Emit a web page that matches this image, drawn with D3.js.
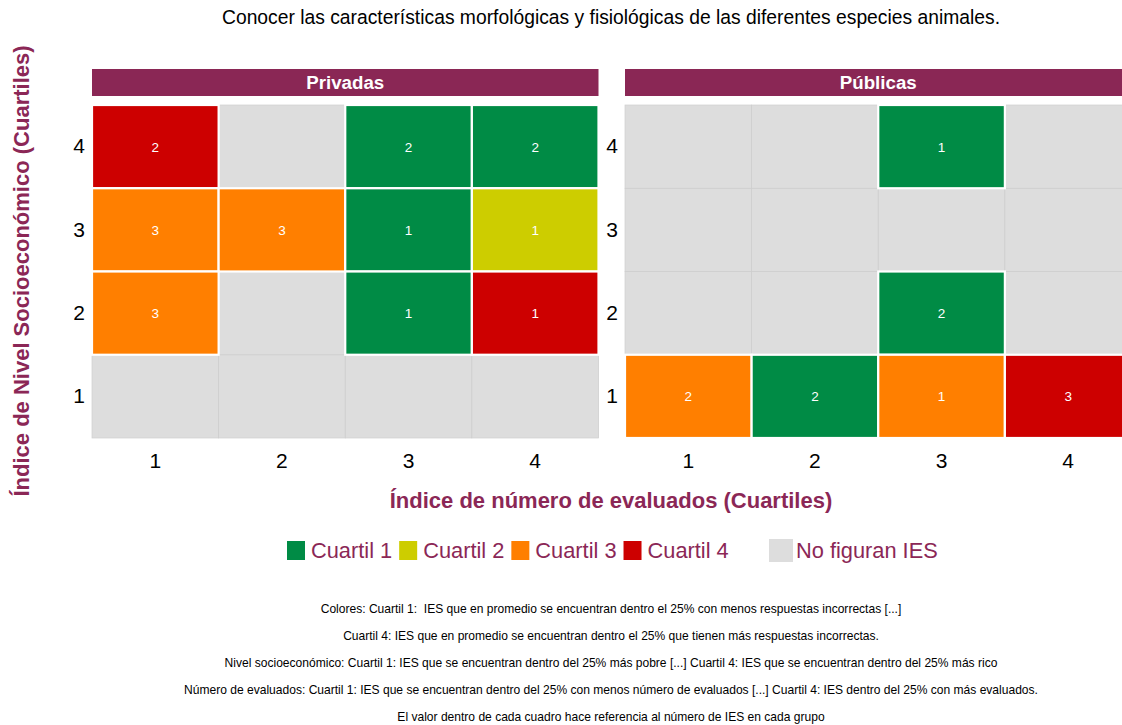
<!DOCTYPE html>
<html>
<head>
<meta charset="utf-8">
<script src="https://cdn.jsdelivr.net/npm/d3@7"></script>
<style>
  html, body { margin: 0; padding: 0; background: #ffffff; }
  svg { display: block; font-family: "Liberation Sans", Arial, sans-serif; }
  .cap { white-space: pre; }
</style>
</head>
<body>
<div id="chart"></div>
<script>
// ---------------- DATA ----------------
const chartTitle = "Conocer las características morfológicas y fisiológicas de las diferentes especies animales.";
const facets = ["Privadas", "Públicas"];
const xCategories = ["1", "2", "3", "4"];          // Índice de número de evaluados
const yCategories = ["1", "2", "3", "4"];          // Índice de Nivel Socioeconómico
// one entry per coloured cell
const cellFacet    = ["Privadas","Privadas","Privadas","Privadas","Privadas","Privadas","Privadas","Privadas","Privadas","Privadas",
                      "Públicas","Públicas","Públicas","Públicas","Públicas","Públicas"];
const cellX        = ["1","3","4","1","2","3","4","1","3","4",  "3","3","1","2","3","4"];
const cellY        = ["4","4","4","3","3","3","3","2","2","2",  "4","2","1","1","1","1"];
const cellQuartile = ["Cuartil 4","Cuartil 1","Cuartil 1","Cuartil 3","Cuartil 3","Cuartil 1","Cuartil 2","Cuartil 3","Cuartil 1","Cuartil 4",
                      "Cuartil 1","Cuartil 1","Cuartil 3","Cuartil 1","Cuartil 3","Cuartil 4"];
const cellCount    = [2,2,2,3,3,1,1,3,1,1,  1,2,2,2,1,3];
const quartileLabels = ["Cuartil 1","Cuartil 2","Cuartil 3","Cuartil 4"];
const quartileColors = ["#008B45","#CDCD00","#FF7F00","#CD0000"];
const missingLabel = "No figuran IES";
const xTitle = "Índice de número de evaluados (Cuartiles)";
const yTitle = "Índice de Nivel Socioeconómico (Cuartiles)";
const captionLines = [
  "Colores: Cuartil 1:  IES que en promedio se encuentran dentro el 25% con menos respuestas incorrectas [...]",
  "Cuartil 4: IES que en promedio se encuentran dentro el 25% que tienen más respuestas incorrectas.",
  "Nivel socioeconómico: Cuartil 1: IES que se encuentran dentro del 25% más pobre [...] Cuartil 4: IES que se encuentran dentro del 25% más rico",
  "Número de evaluados: Cuartil 1: IES que se encuentran dentro del 25% con menos número de evaluados [...] Cuartil 4: IES dentro del 25% con más evaluados.",
  "El valor dentro de cada cuadro hace referencia al número de IES en cada grupo"
];

// ---------------- LAYOUT ----------------
const W = 1122, H = 725;
const maroon = "#8B2756";
const panelBg = "#DDDDDD";
const panelLeft = [92, 625];
const panelW = 506.5;
const panelTop = 105, panelBottom = 438;
const stripTop = 69, stripH = 27;

const cells = cellFacet.map((f, i) => ({
  facet: f, x: cellX[i], y: cellY[i], q: cellQuartile[i], n: cellCount[i]
}));
const color = d3.scaleOrdinal().domain(quartileLabels).range(quartileColors);

const svg = d3.select("#chart").append("svg")
  .attr("width", W).attr("height", H).attr("viewBox", `0 0 ${W} ${H}`);
svg.append("rect").attr("width", W).attr("height", H).attr("fill", "#fff");

// title
svg.append("text").attr("x", 611).attr("y", 24).attr("text-anchor", "middle")
  .attr("font-size", 19.3).attr("fill", "#000").text(chartTitle);

const y = d3.scaleBand().domain(yCategories.slice().reverse()).range([panelTop, panelBottom]).padding(0);

facets.forEach((facet, fi) => {
  const x = d3.scaleBand().domain(xCategories).range([panelLeft[fi], panelLeft[fi] + panelW]).padding(0);
  const g = svg.append("g");

  // strip
  g.append("rect").attr("x", panelLeft[fi]).attr("y", stripTop).attr("width", panelW).attr("height", stripH)
    .attr("fill", "#8A2755");
  g.append("text").attr("x", panelLeft[fi] + panelW / 2).attr("y", stripTop + stripH / 2 + 6.5)
    .attr("text-anchor", "middle").attr("font-size", 18.7).attr("font-weight", "bold").attr("fill", "#fff").text(facet);

  // panel background
  g.append("rect").attr("x", panelLeft[fi]).attr("y", panelTop).attr("width", panelW).attr("height", panelBottom - panelTop)
    .attr("fill", panelBg);

  // missing cells (grey, faint border)
  const present = new Set(cells.filter(c => c.facet === facet).map(c => c.x + "|" + c.y));
  const missing = [];
  xCategories.forEach(xc => yCategories.forEach(yc => { if (!present.has(xc + "|" + yc)) missing.push({x: xc, y: yc}); }));
  g.selectAll("rect.miss").data(missing).enter().append("rect").attr("class", "miss")
    .attr("x", d => x(d.x)).attr("y", d => y(d.y))
    .attr("width", x.bandwidth()).attr("height", y.bandwidth())
    .attr("fill", panelBg).attr("stroke", "#CECECE").attr("stroke-width", 0.7);

  // coloured tiles
  const fc = cells.filter(c => c.facet === facet);
  g.selectAll("rect.tile").data(fc).enter().append("rect").attr("class", "tile")
    .attr("x", d => x(d.x)).attr("y", d => y(d.y))
    .attr("width", x.bandwidth()).attr("height", y.bandwidth())
    .attr("fill", d => color(d.q)).attr("stroke", "#fff").attr("stroke-width", 2.2);
  g.selectAll("text.val").data(fc).enter().append("text").attr("class", "val")
    .attr("x", d => x(d.x) + x.bandwidth() / 2).attr("y", d => y(d.y) + y.bandwidth() / 2 + 5)
    .attr("text-anchor", "middle").attr("font-size", 13.5).attr("fill", "#fff").text(d => d.n);

  // x axis
  const xa = g.append("g").attr("transform", `translate(0,${panelBottom})`)
    .call(d3.axisBottom(x).tickSize(0).tickPadding(15));
  xa.select(".domain").remove();
  xa.selectAll("text").attr("font-size", 21).attr("fill", "#000").attr("font-family", "Liberation Sans, Arial, sans-serif");

  // y axis
  const ya = g.append("g").attr("transform", `translate(${panelLeft[fi]},0)`)
    .call(d3.axisLeft(y).tickSize(0).tickPadding(7));
  ya.select(".domain").remove();
  ya.selectAll("text").attr("font-size", 21).attr("fill", "#000").attr("font-family", "Liberation Sans, Arial, sans-serif");
});

// axis titles
svg.append("text").attr("x", 611).attr("y", 508).attr("text-anchor", "middle")
  .attr("font-size", 22).attr("font-weight", "bold").attr("fill", maroon).text(xTitle);
svg.append("text").attr("transform", "translate(29,271) rotate(-90)").attr("text-anchor", "middle")
  .attr("font-size", 22).attr("font-weight", "bold").attr("fill", maroon).text(yTitle);

// legend
const legY = 541, keyS = 19;
const leg = svg.append("g");
let lx = 287;
quartileLabels.forEach((lab, i) => {
  leg.append("rect").attr("x", lx).attr("y", legY).attr("width", keyS - 1).attr("height", keyS)
    .attr("fill", quartileColors[i]);
  const t = leg.append("text").attr("x", lx + keyS + 5).attr("y", legY + 17).attr("font-size", 21.8)
    .attr("fill", maroon).text(lab);
  lx += keyS + 5 + t.node().getComputedTextLength() + 7;
});
lx = 769;
leg.append("rect").attr("x", lx).attr("y", legY - 2).attr("width", 24).attr("height", 23).attr("fill", panelBg);
leg.append("text").attr("x", lx + 27).attr("y", legY + 17).attr("font-size", 21.8).attr("fill", maroon).text(missingLabel);

// captions
svg.selectAll("text.cap").data(captionLines).enter().append("text").attr("class", "cap")
  .attr("x", 611).attr("y", (d, i) => 613 + i * 27).attr("text-anchor", "middle")
  .attr("font-size", 12.05).attr("fill", "#000").text(d => d);
</script>
</body>
</html>
